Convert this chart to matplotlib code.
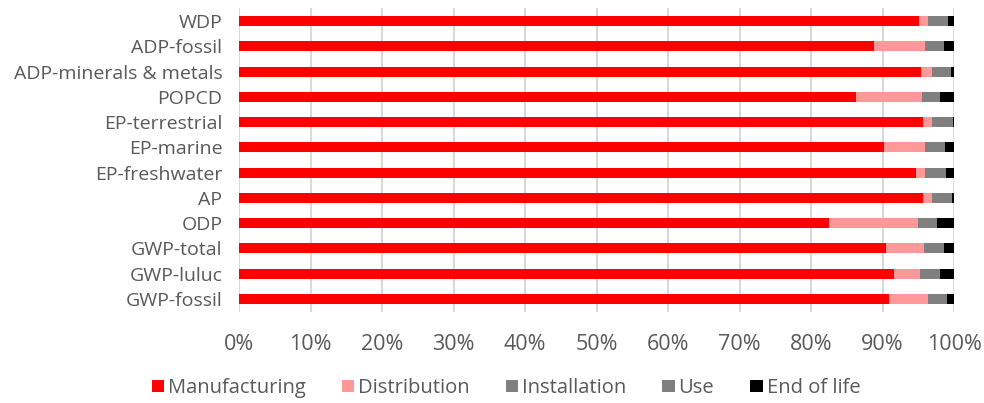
import numpy as np
import matplotlib.pyplot as plt
from matplotlib.ticker import PercentFormatter

plt.rcParams['font.family'] = ['Open Sans', 'DejaVu Sans']

# categories, bottom to top as drawn
categories = ["GWP-fossil", "GWP-luluc", "GWP-total", "ODP", "AP", "EP-freshwater",
              "EP-marine", "EP-terrestrial", "POPCD", "ADP-minerals & metals",
              "ADP-fossil", "WDP"]

# shares in %
manufacturing = [90.9, 91.6, 90.5, 82.5, 95.6, 94.7, 90.2, 95.7, 86.3, 95.4, 88.8, 95.1]
distribution = [5.4, 3.6, 5.3, 12.5, 1.3, 1.2, 5.8, 1.2, 9.2, 1.5, 7.1, 1.3]
installation = [2.5, 2.7, 2.6, 2.4, 2.6, 2.8, 2.5, 2.8, 2.4, 2.5, 2.5, 2.6]
use = [0.2, 0.2, 0.2, 0.2, 0.2, 0.2, 0.2, 0.2, 0.2, 0.2, 0.2, 0.2]
end_of_life = [1.0, 1.9, 1.4, 2.4, 0.3, 1.1, 1.3, 0.1, 1.9, 0.4, 1.4, 0.8]

series = [("Manufacturing", manufacturing, "#ff0000"),
          ("Distribution", distribution, "#ff9999"),
          ("Installation", installation, "#808080"),
          ("Use", use, "#7f7f7f"),
          ("End of life", end_of_life, "#000000")]

fig = plt.figure(figsize=(9.84, 4.03), dpi=100)
ax = fig.add_axes([0.243, 0.227, 0.7265, 0.752])

y = np.arange(len(categories))
left = np.zeros(len(categories))
for name, vals, col in series:
    vals = np.array(vals)
    ax.barh(y, vals, left=left, height=0.4, color=col, label=name, zorder=3)
    left += vals

ax.set_xlim(0, 100)
ax.set_ylim(-0.5, len(categories) - 0.5)
ax.set_yticks(y)
ax.set_yticklabels(categories)
ax.set_xticks(np.arange(0, 101, 10))
ax.xaxis.set_major_formatter(PercentFormatter(decimals=0))
ax.grid(axis='x', color='#d9d9d9', linewidth=1.5, zorder=0)
for s in ax.spines.values():
    s.set_visible(False)
ax.tick_params(axis='both', length=0, colors='#595959', labelsize=14)
ax.tick_params(axis='x', labelsize=15.5, pad=16)
ax.tick_params(axis='y', pad=12)

fig.legend(loc='center', bbox_to_anchor=(506 / 984, 0.037), ncol=5, frameon=False,
           fontsize=14.5, labelcolor='#595959', handlelength=0.6, handleheight=0.6,
           handletextpad=0.2, columnspacing=1.8, borderaxespad=0)

fig.savefig("out.png", dpi=100)
